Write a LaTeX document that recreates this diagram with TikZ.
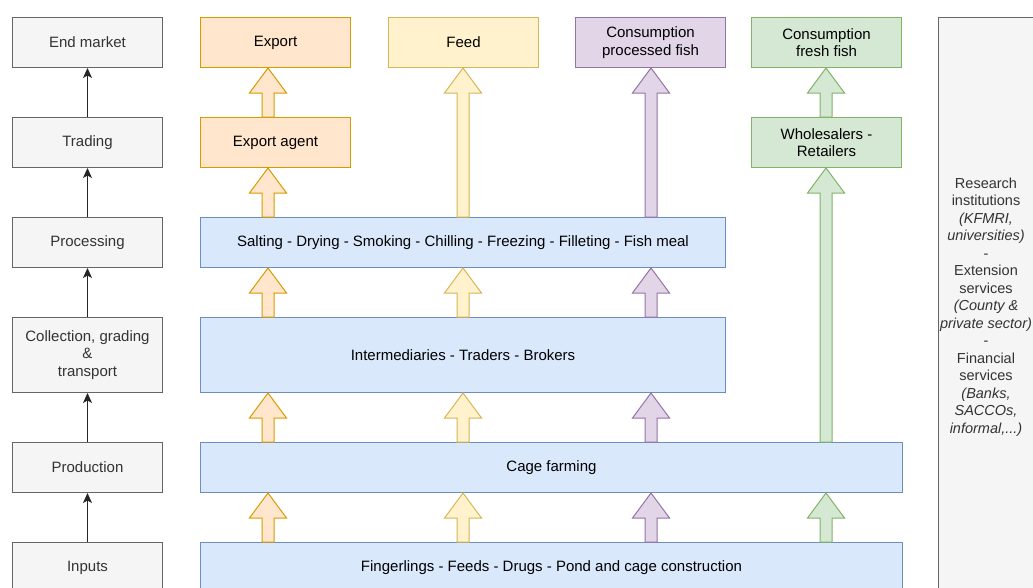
\documentclass[tikz,border=0pt]{standalone}
\usepackage{fontspec}
\setmainfont{Liberation Sans}
\usetikzlibrary{calc,arrows.meta}
\definecolor{gfill}{HTML}{F5F5F5}\definecolor{gline}{HTML}{666666}\definecolor{gtext}{HTML}{333333}
\definecolor{ofill}{HTML}{FFE6CC}\definecolor{oline}{HTML}{D79B00}
\definecolor{yfill}{HTML}{FFF2CC}\definecolor{yline}{HTML}{D6B656}
\definecolor{pfill}{HTML}{E1D5E7}\definecolor{pline}{HTML}{9673A6}
\definecolor{grfill}{HTML}{D5E8D4}\definecolor{grline}{HTML}{82B366}
\definecolor{bfill}{HTML}{DAE8FC}\definecolor{bline}{HTML}{6C8EBF}
\newcommand\fatarrow[4]{%
  \path[#1] let \p1=(#2 |- #3.north), \p2=(#2 |- #4.south) in
    (\x1-6pt,\y1) -- (\x1-6pt,\y2-25pt) -- (\x1-18.5pt,\y2-25pt) -- (\x1,\y2)
    -- (\x1+18.5pt,\y2-25pt) -- (\x1+6pt,\y2-25pt) -- (\x1+6pt,\y1) -- cycle;}
\begin{document}
\begin{tikzpicture}[x=1pt,y=-1pt,
  font=\fontsize{15}{17.5}\selectfont,
  box/.style={rectangle, draw, line width=1pt, anchor=north west, align=center, inner sep=0pt, minimum height=50pt},
  gbox/.style={box, fill=gfill, draw=gline, text=gtext, minimum width=150pt},
  obox/.style={box, fill=ofill, draw=oline, minimum width=150pt},
  ybox/.style={box, fill=yfill, draw=yline, minimum width=150pt},
  pbox/.style={box, fill=pfill, draw=pline, minimum width=150pt},
  grbox/.style={box, fill=grfill, draw=grline, minimum width=150pt},
  bbox/.style={box, fill=bfill, draw=bline},
  oarr/.style={fill=ofill, draw=oline, line width=1pt, line join=miter},
  yarr/.style={fill=yfill, draw=yline, line width=1pt, line join=miter},
  parr/.style={fill=pfill, draw=pline, line width=1pt, line join=miter},
  grarr/.style={fill=grfill, draw=grline, line width=1pt, line join=miter},
  larr/.style={draw=black!85, line width=1.2pt, -{Stealth[length=10pt,width=9pt,inset=2.5pt]}}
]
\useasboundingbox (0,0) rectangle (1033,587);
\clip (0,0) rectangle (1033,587);
% left column
\node[gbox] (em) at (12,17) {End market};
\node[gbox] (tr) at (12,117) {Trading};
\node[gbox] (pc) at (12,217) {Processing};
\node[gbox, minimum height=75pt] (co) at (12,317) {Collection, grading\\\&\\transport};
\node[gbox] (pd) at (12,442) {Production};
\node[gbox] (inp) at (12,542) {Inputs};
\draw[larr] (tr.north) -- (em.south);
\draw[larr] (pc.north) -- (tr.south);
\draw[larr] (co.north) -- (pc.south);
\draw[larr] (pd.north) -- (co.south);
\draw[larr] (inp.north) -- (pd.south);
% top row
\node[obox] (ex) at (200,17) {Export};
\node[ybox] (fe) at (388,17) {Feed};
\node[pbox] (cp) at (575,17) {Consumption\\processed fish};
\node[grbox] (cff) at (751,17) {Consumption\\fresh fish};
\node[obox] (ea) at (200,117) {Export agent};
\node[grbox] (ws) at (751,117) {Wholesalers -\\Retailers};
% blue rows
\node[bbox, minimum width=525pt] (sa) at (200,217) {Salting - Drying - Smoking - Chilling - Freezing - Filleting - Fish meal};
\node[bbox, minimum width=525pt, minimum height=75pt] (im) at (200,317) {Intermediaries - Traders - Brokers};
\node[bbox, minimum width=702pt] (cf) at (200,442) {Cage farming};
\node[bbox, minimum width=702pt] (fi) at (200,542) {Fingerlings - Feeds - Drugs - Pond and cage construction};
% right box
\node[box, fill=gfill, draw=gline, text=gtext, minimum width=100pt, minimum height=600pt] (rs) at (938,17) {};
\node[text=gtext, align=center, inner sep=0pt, font=\fontsize{14.5}{17.5}\selectfont] (rst) at (986,307) {Research\\institutions\\\textit{(KFMRI,}\\\textit{universities)}\\-\\Extension\\services\\\textit{(County \&}\\\textit{private sector)}\\-\\Financial\\services\\\textit{(Banks,}\\\textit{SACCOs,}\\\textit{informal,...)}};
% arrow columns
\coordinate (xO) at (268,0);
\coordinate (xY) at (463,0);
\coordinate (xP) at (651,0);
\coordinate (xG) at (826,0);
\fatarrow{oarr}{xO}{ea}{ex}
\fatarrow{oarr}{xO}{sa}{ea}
\fatarrow{oarr}{xO}{im}{sa}
\fatarrow{oarr}{xO}{cf}{im}
\fatarrow{oarr}{xO}{fi}{cf}
\fatarrow{yarr}{xY}{sa}{fe}
\fatarrow{yarr}{xY}{im}{sa}
\fatarrow{yarr}{xY}{cf}{im}
\fatarrow{yarr}{xY}{fi}{cf}
\fatarrow{parr}{xP}{sa}{cp}
\fatarrow{parr}{xP}{im}{sa}
\fatarrow{parr}{xP}{cf}{im}
\fatarrow{parr}{xP}{fi}{cf}
\fatarrow{grarr}{xG}{ws}{cff}
\fatarrow{grarr}{xG}{cf}{ws}
\fatarrow{grarr}{xG}{fi}{cf}
\end{tikzpicture}
\end{document}
